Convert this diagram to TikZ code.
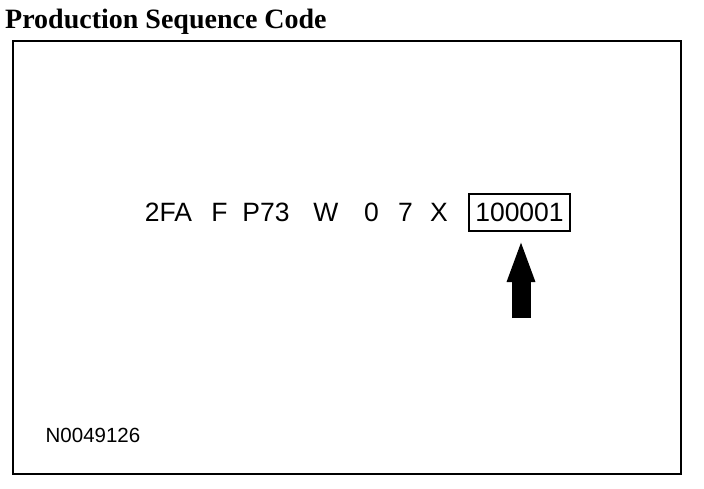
\documentclass[tikz,border=0pt]{standalone}
\usepackage{fontspec}
\setmainfont{Liberation Sans}
\newfontfamily\titlefont{Liberation Serif}
\usepackage{tikz}
\usetikzlibrary{positioning, arrows.meta}

\begin{document}
\begin{tikzpicture}[
        x=1pt, y=-1pt,
        field/.style={inner sep=0pt, font=\fontsize{26.5}{32}\selectfont},
        serial/.style={field, draw=black, line width=2pt, minimum width=101pt, minimum height=37pt},
        pointer/.style={line width=19pt, -{Triangle[length=43pt, width=25pt]}, shorten >=7pt},
        heading/.style={inner sep=0pt, anchor=base west, font=\titlefont\bfseries\fontsize{28}{34}\selectfont},
        note/.style={inner sep=0pt, font=\fontsize{20.5}{25}\selectfont}
        ]
        \useasboundingbox (0,0) rectangle (704,488);
        \node[heading] (title) at (5,28) {Production Sequence Code};
        \draw[line width=2pt] (13,41) rectangle (681,474);

        \node[field] (plant) at (168.5,212.5) {2FA};
        \node[field] (line) at (219.5,212.5) {F};
        \node[field] (model) at (266,212.5) {P73};
        \node[field] (engine) at (326,212.5) {W};
        \node[field] (check) at (371.5,212.5) {0};
        \node[field] (year) at (405.5,212.5) {7};
        \node[field] (assembly) at (439,212.5) {X};
        \node[serial] (code) at (519.5,212.5) {100001};

        \coordinate (foot) at (521,318);
        \draw[pointer] (foot) -- (foot |- code.south);

        \node[note] (ref) at (93,435) {N0049126};
    \end{tikzpicture}
\end{document}
